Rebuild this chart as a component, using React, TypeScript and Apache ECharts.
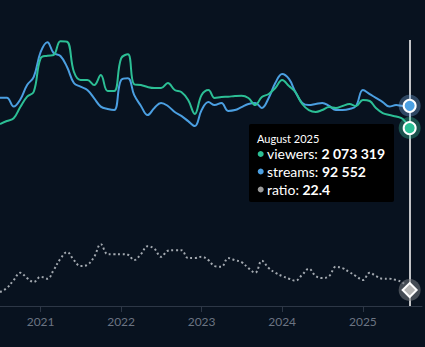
import React, { useEffect, useRef } from "react";
import * as echarts from "echarts";

// Monthly values, July 2020 .. August 2025
const viewers = [
  2121000, 2156000, 2188000, 2319000, 2440000, 2497000, 2887000, 2917000, 2925000, 3085000,
  3080000, 2730000, 2634000, 2634000, 2575000, 2692000, 2506000, 2506000, 2887000, 2933000,
  2584000, 2575500, 2552000, 2540600, 2540600, 2598800, 2517300, 2494000, 2400700, 2237600,
  2459000, 2517300, 2424000, 2435700, 2439000, 2447000, 2451000, 2424000, 2342500, 2435700,
  2470600, 2540600, 2634000, 2564000, 2494000, 2354000, 2284000, 2261000, 2284000, 2319000,
  2307000, 2331000, 2354000, 2331000, 2401000, 2389000, 2307000, 2249000, 2226000, 2208000,
  2179000, 2073319,
];
const streams = [
  96300, 96300, 92200, 95500, 102200, 105900, 117400, 122000, 117000, 115600,
  110500, 103100, 101400, 99900, 96000, 92200, 91100, 90600, 104500, 105300,
  97600, 92500, 88300, 91600, 93900, 92500, 89700, 87900, 85500, 83200,
  90600, 94300, 92900, 93900, 90200, 90600, 92000, 93400, 93900, 91600,
  96200, 103100, 107300, 105000, 99000, 93900, 92900, 93400, 93900, 92500,
  90600, 90600, 91100, 92500, 99900, 98000, 96200, 94300, 92200, 92900,
  92500, 92552,
];
const ratio = [
  22.1, 22.7, 23.9, 25.0, 24.2, 23.6, 24.4, 24.1, 25.4, 27.1,
  28.1, 26.9, 26.0, 26.2, 27.4, 29.3, 27.8, 27.8, 27.8, 27.7,
  26.9, 27.8, 29.0, 28.6, 27.4, 28.3, 28.4, 28.4, 27.2, 27.2,
  27.4, 26.9, 26.0, 25.9, 27.2, 26.9, 26.6, 25.7, 25.0, 26.8,
  25.7, 25.0, 24.5, 24.1, 23.8, 24.7, 25.6, 24.5, 24.2, 24.5,
  25.9, 25.7, 25.1, 24.5, 23.9, 25.0, 24.5, 24.1, 24.1, 23.9,
  23.5, 22.4,
];
const START_YEAR = 2020;
const START_MONTH = 6; // July (0-based)
const months = viewers.map((_, i) => Date.UTC(START_YEAR, START_MONTH + i, 1));
const MONTH_NAMES = ["January", "February", "March", "April", "May", "June", "July", "August", "September", "October", "November", "December"];

const BG = "#08121f";
const GREEN = "#2cbf95";
const BLUE = "#4b9fe1";
const GREY = "#a3a9b0";
const FONT = "Lato";

function fmt(n: number): string {
  return String(n).replace(/\B(?=(\d{3})+(?!\d))/g, " ");
}

export default function App() {
  const ref = useRef<HTMLDivElement>(null);
  useEffect(() => {
    document.body.style.margin = "0";
    document.body.style.background = BG;
    const chart = echarts.init(ref.current!, null, { renderer: "svg" });
    const last = months.length - 1;
    const lastT = months[last];
    const lastDate = new Date(lastT);
    const title = MONTH_NAMES[lastDate.getUTCMonth()] + " " + lastDate.getUTCFullYear();
    const YEAR = 365 * 24 * 3600 * 1000;

    const dot = (color: string, value: number, halo: string, symbol = "circle", size = 12) => ({
      silent: true,
      label: { show: false },
      data: [
        { coord: [lastT, value], symbol: "circle", symbolSize: 22, itemStyle: { color: halo } },
        {
          coord: [lastT, value],
          symbol,
          symbolSize: size,
          itemStyle: { color, borderColor: "#ffffff", borderWidth: 2 },
        },
      ],
    });

    const rowStyle = (txt: string, val: string) => ({
      text: txt + " {b|" + val + "}",
      fill: "#ffffff",
      font: "14px " + FONT,
      verticalAlign: "middle",
      align: "left",
      rich: {
        b: { fontWeight: "bold", fontSize: 14, fontFamily: FONT, fill: "#ffffff" },
      },
    });

    chart.setOption({
      animation: false,
      backgroundColor: BG,
      textStyle: { fontFamily: FONT },
      grid: { left: 0, right: 3, top: 40, bottom: 41, containLabel: false },
      xAxis: {
        type: "time",
        min: Date.UTC(2020, 6, 1),
        max: Date.UTC(2025, 8, 26),
        minInterval: YEAR,
        maxInterval: YEAR * 1.01,
        axisLine: { lineStyle: { color: "#2d3746", width: 1 } },
        axisTick: { show: true, length: 6, lineStyle: { color: "#2d3746" } },
        splitLine: { show: false },
        axisLabel: {
          color: "#6b7482",
          fontSize: 12,
          fontFamily: FONT,
          margin: 9,
          formatter: (v: number) => String(new Date(v).getUTCFullYear()),
        },
      },
      yAxis: [
        { type: "value", min: 0, max: 3100000, show: false },
        { type: "value", min: 0, max: 123000, show: false },
        { type: "value", min: 20, max: 60, show: false },
      ],
      series: [
        {
          name: "ratio",
          type: "line",
          yAxisIndex: 2,
          smooth: 0.4,
          showSymbol: false,
          data: months.map((t, i) => [t, ratio[i]]),
          lineStyle: { color: GREY, width: 2, type: [2, 2.6] },
          markLine: {
            silent: true,
            symbol: ["none", "none"],
            label: { show: false },
            lineStyle: { color: "#ffffff", width: 1.5, type: "solid" },
            data: [{ xAxis: lastT }],
          },
          markPoint: dot("#b5b5b5", ratio[last], "rgba(120,124,130,0.55)", "diamond", 14),
        },
        {
          name: "streams",
          type: "line",
          yAxisIndex: 1,
          smooth: 0.4,
          showSymbol: false,
          data: months.map((t, i) => [t, streams[i]]),
          lineStyle: { color: BLUE, width: 2 },
          markPoint: dot(BLUE, streams[last], "rgba(120,175,230,0.35)"),
        },
        {
          name: "viewers",
          type: "line",
          yAxisIndex: 0,
          smooth: 0.4,
          showSymbol: false,
          data: months.map((t, i) => [t, viewers[i]]),
          lineStyle: { color: GREEN, width: 2 },
          markPoint: dot(GREEN, viewers[last], "rgba(60,200,160,0.35)"),
        },
      ],
      graphic: [
        {
          type: "group",
          left: 249,
          top: 124,
          z: 100,
          children: [
            { type: "rect", shape: { x: 0, y: 0, width: 145, height: 78, r: 2 }, style: { fill: "#000000" } },
            {
              type: "text",
              x: 8,
              y: 14.5,
              style: { text: title, fill: "#ffffff", font: "11px " + FONT, verticalAlign: "middle", align: "left" },
            },
            { type: "circle", shape: { cx: 11.7, cy: 30, r: 3 }, style: { fill: GREEN } },
            { type: "text", x: 18, y: 29.5, style: rowStyle("viewers:", fmt(viewers[last])) },
            { type: "circle", shape: { cx: 11.7, cy: 47.5, r: 3 }, style: { fill: BLUE } },
            { type: "text", x: 18, y: 47, style: rowStyle("streams:", fmt(streams[last])) },
            { type: "circle", shape: { cx: 11.7, cy: 65.5, r: 3 }, style: { fill: "#9a9a9a" } },
            { type: "text", x: 18, y: 65, style: rowStyle("ratio:", ratio[last].toFixed(1)) },
          ],
        },
      ],
    });
    return () => chart.dispose();
  }, []);
  return (
    <div
      ref={ref}
      style={{ position: "absolute", left: 0, top: 0, width: 425, height: 347, background: BG }}
    />
  );
}
